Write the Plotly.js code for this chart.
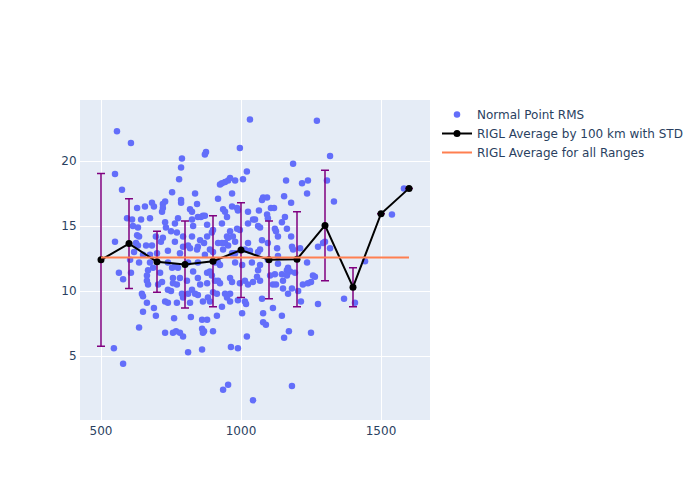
<!DOCTYPE html>
<html>
<head>
<meta charset="utf-8">
<script src="https://cdn.plot.ly/plotly-3.0.1.min.js"></script>
<style>html,body{margin:0;padding:0;background:#fff;}#chart{width:700px;height:500px;}</style>
</head>
<body>
<div id="chart"></div>
<script>
// Normal point RMS scatter (range km, RMS)
const pointRange = [
557,607,789,786,779,550,575,754,786,786,729,682,689,721,721,718,629,657,593,611,643,675,775,729,764,614,632,732,629,636,696,721,750,771,793,764,714,550,625,632,682,661,793,739,618,650,675,700,782,
604,636,675,686,668,564,607,579,664,664,668,711,718,704,739,754,764,775,757,757,771,782,739,750,646,650,789,793,664,729,739,771,650,689,696,761,636,729,757,768,782,793,546,579,
1032,996,875,871,1021,1007,979,961,954,943,932,925,968,836,918,843,818,825,936,943,968,986,989,1025,864,846,857,871,950,825,932,1043,1025,829,879,986,996,900,896,961,825,950,954,879,971,854,918,932,943,954,979,1025,868,811,818,846,843,889,900,936,1014,1032,968,979,871,
811,846,907,918,925,979,1004,1039,829,879,889,896,807,846,854,879,907,918,925,961,968,996,1014,1025,1043,825,836,846,811,900,914,943,961,882,864,889,950,961,989,1014,1018,818,932,1004,914,821,861,879,861,868,864,900,1021,964,989,811,861,954,936,1043,
1271,1186,1161,1218,1239,1236,1079,1093,1075,1154,1179,1107,1118,1064,1093,1096,1157,1146,1050,1061,1068,1121,1125,1164,1132,1179,1075,1096,1129,1182,1186,1211,1275,1293,1068,1061,1132,
1068,1061,1057,1068,1096,1132,1168,1164,1175,1193,1121,1146,1164,1104,1114,1125,1236,1257,1264,1221,1239,1250,1150,1150,1182,1168,1204,1075,1214,1275,1114,1079,1146,1079,1089,1171,1154,1250,1182,
1318,1307,1332,1582,1539,1300,1318,1443,1368,1407
];
const pointRms = [
22.3,21.4,20.2,19.5,18.6,19.0,17.8,17.6,17.0,16.8,16.9,16.8,16.5,16.7,16.4,16.1,16.4,16.5,15.6,15.5,15.5,15.6,15.6,15.3,15.2,15.0,14.9,14.9,14.3,14.2,14.2,14.1,14.6,14.5,14.2,13.8,13.8,13.8,13.7,13.5,13.5,13.5,13.4,13.1,13.0,12.8,12.8,12.9,12.9,
12.4,12.2,12.2,11.8,11.6,11.4,11.4,10.9,11.2,10.8,10.5,11.4,10.7,10.5,12.2,11.8,11.9,11.8,11.0,10.6,10.5,11.0,10.1,10.0,9.8,9.6,9.8,9.5,9.1,9.2,9.1,9.1,8.4,8.7,8.1,7.9,7.2,6.8,6.8,6.9,6.8,6.5,5.6,4.4,
23.2,21.0,20.7,20.5,19.2,18.6,18.5,18.7,18.5,18.4,18.3,18.2,17.5,17.5,17.1,16.7,16.3,16.1,16.3,16.1,16.5,16.4,16.2,16.1,15.8,15.7,15.7,15.8,15.7,15.5,15.2,15.5,15.2,15.0,15.1,14.8,14.7,14.7,14.5,14.6,14.2,14.2,14.1,14.2,14.2,13.9,13.7,13.7,13.7,13.5,13.8,13.7,13.7,13.5,13.3,13.4,13.2,13.2,13.0,13.2,13.2,13.1,12.9,12.9,12.8,
12.2,12.2,12.2,12.2,12.0,12.2,12.0,12.2,11.5,11.4,11.5,11.2,10.8,11.0,10.5,10.6,10.8,10.8,10.6,11.0,10.7,10.6,10.8,10.5,10.7,10.1,9.8,9.7,9.8,9.9,9.8,9.8,9.8,9.5,9.2,9.2,9.5,9.2,9.3,9.2,9.0,9.1,8.8,8.3,8.1,8.0,7.8,7.8,7.1,6.9,6.8,6.9,6.5,5.7,5.6,5.3,5.5,2.8,2.4,1.6,
23.1,19.8,18.5,18.3,18.5,17.5,17.2,17.2,17.0,17.3,16.8,16.4,16.4,16.2,15.9,15.6,15.7,15.3,15.5,15.0,14.9,14.8,14.6,14.8,14.2,14.2,13.9,13.7,13.3,13.4,13.2,13.3,13.4,13.7,13.2,13.0,12.7,
12.0,11.6,11.1,10.8,12.4,12.1,11.8,11.6,11.5,11.4,11.3,11.3,11.2,11.2,10.5,10.5,12.2,11.2,11.1,10.5,10.6,10.7,10.8,10.2,10.2,9.8,10.0,9.4,9.2,9.0,8.7,8.3,8.1,7.6,7.4,6.9,6.4,6.8,2.7,
20.4,18.5,16.9,17.9,15.9,13.8,13.3,12.3,9.4,9.1
];

// Average by 100 km bins with standard deviation
const binRange = [500, 600, 700, 800, 900, 1000, 1100, 1200, 1300, 1400, 1500, 1600];
const binAverage = [12.4, 13.65, 12.25, 12.05, 12.3, 13.15, 12.4, 12.45, 15.05, 10.3, 15.95, 17.9];
const binStd = [6.65, 3.45, 2.35, 3.35, 3.5, 3.65, 3.0, 3.65, 4.25, 1.5, 0, 0];

// Overall average across all ranges
const overallRange = [500, 1600];
const overallAverage = [12.58, 12.58];

const traces = [
  {
    type: 'scatter', mode: 'markers', name: 'Normal Point RMS',
    x: pointRange, y: pointRms,
    marker: {color: '#636efa', size: 6.5}
  },
  {
    type: 'scatter', mode: 'lines+markers', name: 'RIGL Average by 100 km with STD',
    x: binRange, y: binAverage,
    line: {color: 'black', width: 2},
    marker: {color: 'black', size: 7},
    error_y: {type: 'data', array: binStd, visible: true, color: 'purple', thickness: 1.5, width: 4}
  },
  {
    type: 'scatter', mode: 'lines', name: 'RIGL Average for all Ranges',
    x: overallRange, y: overallAverage,
    line: {color: '#ff7f50', width: 2}
  }
];

const layout = {
  width: 700, height: 500,
  paper_bgcolor: 'white', plot_bgcolor: '#E5ECF6',
  font: {family: '"DejaVu Sans", Verdana, sans-serif', size: 12, color: '#2a3f5f'},
  margin: {l: 80, r: 80, t: 100, b: 80},
  xaxis: {range: [425, 1675], dtick: 500, tick0: 0, gridcolor: 'white', linecolor: 'white', zeroline: false, ticks: '', gridwidth: 1},
  yaxis: {range: [0.08, 24.7], dtick: 5, tick0: 0, gridcolor: 'white', linecolor: 'white', zeroline: false, ticks: '', gridwidth: 1},
  legend: {font: {size: 12, color: '#2a3f5f'}},
  showlegend: true
};

Plotly.newPlot('chart', traces, layout, {displayModeBar: false});
</script>
</body>
</html>
